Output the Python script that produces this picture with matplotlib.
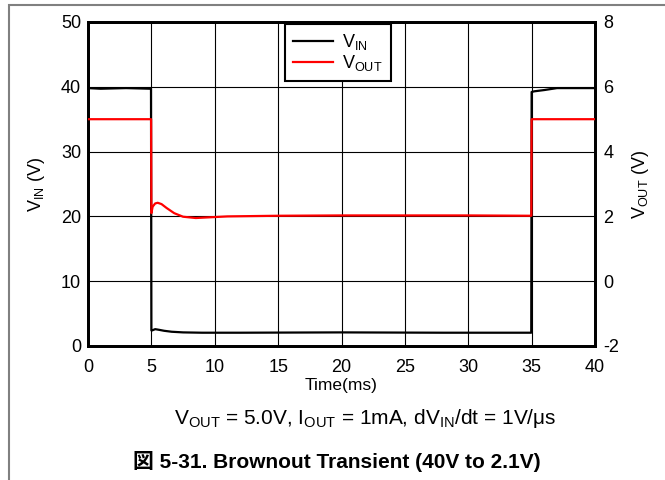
import matplotlib.pyplot as plt
import matplotlib.patches as mpatches

plt.rcParams['font.family'] = ['Liberation Sans', 'Noto Sans CJK JP']
plt.rcParams['mathtext.default'] = 'regular'
plt.rcParams['axes.unicode_minus'] = False

# VIN trace (left axis, V) vs time (ms)
t_vin = [0, 1, 3, 4.97, 5.0, 5.05, 5.3, 5.6, 6.0, 6.6, 7.5, 9, 12, 20, 28, 34.97,
         35.0, 35.2, 36, 37, 38, 40]
vin = [39.8, 39.7, 39.8, 39.7, 2.4, 2.4, 2.6, 2.5, 2.35, 2.2, 2.1, 2.05, 2.05, 2.1,
       2.05, 2.05, 39.2, 39.3, 39.5, 39.8, 39.8, 39.8]

# VOUT trace (right axis, V)
t_vout = [0, 2, 4.98, 5.0, 5.1, 5.3, 5.5, 5.8, 6.2, 6.8, 7.5, 8.5, 9.5, 11, 15,
          20, 25, 30, 34.98, 35.0, 40]
vout = [5.0, 5.0, 5.0, 2.1, 2.3, 2.4, 2.42, 2.38, 2.26, 2.1, 1.99, 1.95, 1.97, 2.0,
        2.02, 2.03, 2.03, 2.03, 2.02, 5.0, 5.0]

fig = plt.figure(figsize=(6.65, 4.8), dpi=100)
ax = fig.add_axes([88/665, 1 - 346/480, 507/665, 324/480])
ax2 = ax.twinx()

l1, = ax.plot(t_vin, vin, color='black', lw=1.6, zorder=3)
l2, = ax2.plot(t_vout, vout, color='#ff0000', lw=1.6, zorder=3)

ax.set_xlim(0, 40)
ax.set_ylim(0, 50)
ax2.set_ylim(-2, 8)
ax.set_xticks(range(0, 41, 5))
ax.set_yticks(range(0, 51, 10))
ax2.set_yticks(range(-2, 9, 2))
ax.grid(color='black', lw=0.8)
ax.tick_params(length=0, labelsize=13, pad=5)
ax.tick_params(axis='x', pad=9)
ax2.tick_params(length=0, labelsize=13, pad=6)
for a in (ax, ax2):
    for s in a.spines.values():
        s.set_linewidth(2)

ax.set_xlabel('Time(ms)', fontsize=12.5, labelpad=2)
ax.set_ylabel(r'$V_{IN}$ (V)', fontsize=13, labelpad=10)
ax2.set_ylabel(r'$V_{OUT}$ (V)', fontsize=13, labelpad=8)

leg = ax2.legend([l1, l2], [r'$V_{IN}$', r'$V_{OUT}$'], loc='upper left',
                 bbox_to_anchor=(0.389, 0.993), fancybox=False, edgecolor='black',
                 framealpha=1, fontsize=13, handlelength=2.2, handletextpad=0.5,
                 borderaxespad=0, labelspacing=0.05, borderpad=0.45)
leg.get_frame().set_linewidth(1.5)

fig.text(365/665, 1 - 419/480, r'$V_{OUT}$ = 5.0V, $I_{OUT}$ = 1mA, d$V_{IN}$/dt = 1V/μs',
         ha='center', va='center', fontsize=15)
fig.text(133/665, 1 - 461/480, '図 5-31. Brownout Transient (40V to 2.1V)',
         ha='left', va='center', fontsize=15, fontweight='bold')

fig.patches.append(mpatches.Rectangle((8.5/665, -0.1), 1.2, 1 - 4.5/480 + 0.1,
                                      transform=fig.transFigure, fill=False,
                                      edgecolor='#808080', lw=1.5))

fig.savefig('out.png', dpi=100)
